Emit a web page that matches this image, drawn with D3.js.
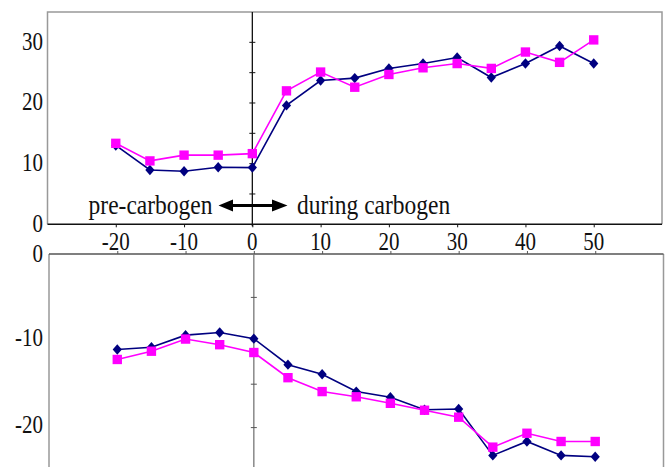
<!DOCTYPE html>
<html>
<head>
<meta charset="utf-8">
<script src="https://cdn.jsdelivr.net/npm/d3@7"></script>
<style>
  body { margin: 0; background: #fff; }
  svg text { font-family: "Liberation Serif", "Times New Roman", serif; fill: #111; }
</style>
</head>
<body>
<div class="container"></div>
<script>
const width = 667;
const height = 467;

// minutes relative to start of carbogen
const minutes = [-20, -15, -10, -5, 0, 5, 10, 15, 20, 25, 30, 35, 40, 45, 50];

// top panel
const topNavy = [13.0, 8.95, 8.75, 9.4, 9.35, 19.6, 23.7, 24.1, 25.7, 26.5, 27.5, 24.2, 26.5, 29.4, 26.5];
const topPink = [13.35, 10.45, 11.4, 11.4, 11.65, 22.0, 25.1, 22.6, 24.7, 25.8, 26.5, 25.7, 28.4, 26.7, 30.4];

// bottom panel
const bottomNavy = [-11.0, -10.75, -9.35, -9.05, -9.75, -12.75, -13.85, -15.85, -16.5, -17.95, -17.85, -23.2, -21.6, -23.2, -23.35];
const bottomPink = [-12.15, -11.2, -9.8, -10.45, -11.35, -14.25, -15.85, -16.45, -17.2, -18.0, -18.8, -22.25, -20.65, -21.6, -21.6];

const xTicks = [-20, -10, 0, 10, 20, 30, 40, 50];
const topYTicks = [0, 10, 20, 30];
const bottomYTicks = [0, -10, -20];

const navy = '#000080';
const pink = '#ff00ff';
const stretch = 1.18; // glyphs in the picture are taller than they are wide

const svg = d3.select('.container')
                .append('svg')
                .attr('width', width)
                .attr('height', height);

// scales
const xTop = d3.scaleLinear().domain([-30, 60]).range([47.5, 662]);
const yTop = d3.scaleLinear().domain([0, 35]).range([224.3, 12]);
const xBot = d3.scaleLinear().domain([-30, 60]).range([49, 663.5]);
const yBot = d3.scaleLinear().domain([-25, 0]).range([471, 254]);

// text placed with its baseline at (x, y), stretched vertically
function label(g, x, y, str, anchor, size) {
    g.append('text')
        .attr('transform', `translate(${x},${y}) scale(1,${stretch})`)
        .attr('text-anchor', anchor)
        .style('font-size', size + 'px')
        .text(str);
}

const diamond = 'M0,-5.2L4.6,0L0,5.2L-4.6,0Z';

function drawSeries(g, xs, ys, values, color, shape) {
    const line = d3.line()
                   .x((d, i) => xs(minutes[i]))
                   .y(d => ys(d));
    g.append('path')
        .datum(values)
        .attr('fill', 'none')
        .attr('stroke', color)
        .attr('stroke-width', 1.6)
        .attr('d', line);
    g.selectAll(null)
        .data(values)
        .enter()
        .append('path')
        .attr('d', shape === 'square' ? d3.symbol().type(d3.symbolSquare).size(88)() : diamond)
        .attr('transform', (d, i) => `translate(${xs(minutes[i])},${ys(d)})`)
        .attr('fill', color);
}

// ---------- top panel ----------
const gTop = svg.append('g');

// grey frame (left, top, right)
gTop.append('path')
    .attr('d', `M${xTop.range()[0]},${yTop(0)}V${yTop(35)}H${xTop.range()[1]}V${yTop(0)}`)
    .attr('fill', 'none')
    .attr('stroke', '#999')
    .attr('stroke-width', 1.5);

// x axis at y=0
gTop.append('g')
    .attr('transform', `translate(0,${yTop(0)})`)
    .call(d3.axisBottom(xTop).tickValues(xTicks).tickSize(3).tickFormat(''))
    .call(g => g.select('.domain').attr('stroke', '#111').attr('stroke-width', 1.5).attr('d', `M${xTop.range()[0]},0H${xTop.range()[1]}`))
    .call(g => g.selectAll('.tick line').attr('stroke', '#111'));

// vertical axis at x=0 with crossing ticks
gTop.append('line')
    .attr('x1', xTop(0)).attr('x2', xTop(0))
    .attr('y1', yTop(35)).attr('y2', yTop(0) + 2)
    .attr('stroke', '#111').attr('stroke-width', 1.3);
gTop.selectAll(null)
    .data(d3.range(5, 35, 5))
    .enter()
    .append('line')
    .attr('x1', xTop(0) - 3).attr('x2', xTop(0) + 3)
    .attr('y1', d => yTop(d)).attr('y2', d => yTop(d))
    .attr('stroke', '#111');

// y labels
topYTicks.forEach(d => label(gTop, 43, yTop(d) + 7.5, d, 'end', 21));

// x labels (between panels)
xTicks.forEach(d => label(gTop, xTop(d), 249.5, d, 'middle', 21));

drawSeries(gTop, xTop, yTop, topNavy, navy, 'diamond');
drawSeries(gTop, xTop, yTop, topPink, pink, 'square');

// annotation
label(svg, 212.5, 214, 'pre-carbogen', 'end', 23.5);
label(svg, 297, 214, 'during carbogen', 'start', 23.5);

const ay = 205.5;
svg.append('line')
    .attr('x1', 228).attr('x2', 277)
    .attr('y1', ay).attr('y2', ay)
    .attr('stroke', '#000').attr('stroke-width', 3);
svg.append('path')
    .attr('d', `M218.5,${ay}L233,${ay - 6}V${ay + 6}Z M287.5,${ay}L272,${ay - 6}V${ay + 6}Z`)
    .attr('fill', '#000');

// ---------- bottom panel ----------
const gBot = svg.append('g');

gBot.append('path')
    .attr('d', `M${xBot.range()[0]},${height + 5}V${yBot(0)} M${xBot.range()[1]},${yBot(0)}V${height + 5}`)
    .attr('fill', 'none')
    .attr('stroke', '#999')
    .attr('stroke-width', 1.5);

gBot.append('g')
    .attr('transform', `translate(0,${yBot(0)})`)
    .call(d3.axisTop(xBot).tickValues(xTicks).tickSize(3).tickFormat(''))
    .call(g => g.select('.domain').attr('stroke', '#555').attr('stroke-width', 1.5).attr('d', `M${xBot.range()[0]},0H${xBot.range()[1]}`))
    .call(g => g.selectAll('.tick line').attr('stroke', '#555'));

gBot.append('line')
    .attr('x1', xBot(0)).attr('x2', xBot(0))
    .attr('y1', yBot(0)).attr('y2', height + 5)
    .attr('stroke', '#777').attr('stroke-width', 1.3);
gBot.selectAll(null)
    .data([-5, -10, -15, -20])
    .enter()
    .append('line')
    .attr('x1', xBot(0) - 3).attr('x2', xBot(0) + 3)
    .attr('y1', d => yBot(d)).attr('y2', d => yBot(d))
    .attr('stroke', '#555');

bottomYTicks.forEach(d => label(gBot, 43, yBot(d) + (d === 0 ? 7.5 : 5), d, 'end', 21));

drawSeries(gBot, xBot, yBot, bottomNavy, navy, 'diamond');
drawSeries(gBot, xBot, yBot, bottomPink, pink, 'square');
</script>
</body>
</html>
